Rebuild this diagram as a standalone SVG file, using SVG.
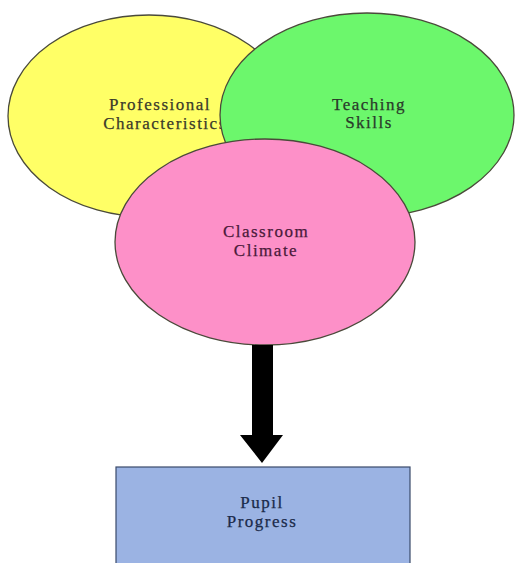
<svg xmlns="http://www.w3.org/2000/svg" width="517" height="563" viewBox="0 0 517 563">
<style>
.sh{stroke:#4a4a3a;stroke-width:1.3}
.t{font-family:"Liberation Serif","Times New Roman",serif;font-size:17px;letter-spacing:1.5px;text-anchor:middle;stroke-width:0.25}
</style>
<rect width="517" height="563" fill="#ffffff"/>
<g id="professional">
<ellipse class="sh" cx="149" cy="116" rx="141" ry="101" fill="#ffff66"/>
<text class="t" x="160" y="110" fill="#3a3a2a" stroke="#3a3a2a">Professional</text>
<text class="t" x="165" y="129" fill="#3a3a2a" stroke="#3a3a2a">Characteristics</text>
</g>
<g id="teaching">
<ellipse class="sh" cx="367" cy="115" rx="147" ry="102" fill="#6cf76c"/>
<text class="t" x="369" y="110" fill="#2a3a2a" stroke="#2a3a2a">Teaching</text>
<text class="t" x="369" y="128" fill="#2a3a2a" stroke="#2a3a2a">Skills</text>
</g>
<g id="climate">
<ellipse class="sh" cx="265" cy="242" rx="150" ry="103" fill="#fd90c8"/>
<text class="t" x="266" y="237" fill="#4a1a3a" stroke="#4a1a3a">Classroom</text>
<text class="t" x="266" y="256" fill="#4a1a3a" stroke="#4a1a3a">Climate</text>
</g>
<g id="connectors">
<polygon points="252,345 273,345 273,435 283,435 262,463 240,435 252,435" fill="#000000"/>
</g>
<g id="progress">
<rect x="116" y="467" width="294" height="100" fill="#9bb3e3" stroke="#3a4a6a" stroke-width="1.2"/>
<text class="t" x="262" y="508" fill="#1a2a4a" stroke="#1a2a4a">Pupil</text>
<text class="t" x="262" y="527" fill="#1a2a4a" stroke="#1a2a4a">Progress</text>
</g>
</svg>
